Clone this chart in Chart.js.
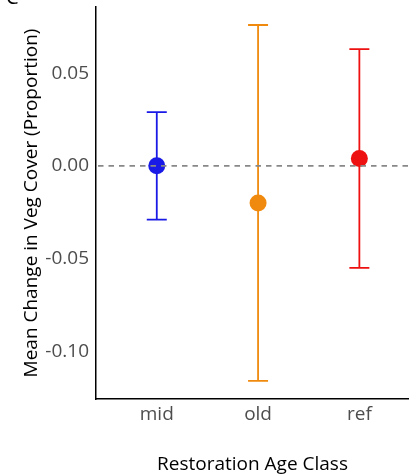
<!DOCTYPE html>
<html>
<head>
<meta charset="utf-8">
<script src="https://cdn.jsdelivr.net/npm/chart.js@4"></script>
<style>
  html, body { margin: 0; padding: 0; background: #fff; overflow: hidden; }
  #wrap { width: 409px; height: 476px; position: relative; }
</style>
</head>
<body>
<div id="wrap"><canvas id="grafica"></canvas></div>
<script>
const categorias = ["mid", "old", "ref"];
const medias = [0.000, -0.020, 0.004];
const inferior = [-0.029, -0.116, -0.055];
const superior = [0.029, 0.076, 0.063];
const colores = ["#1a1ae6", "#f08a0e", "#ee1111"];
const ticksY = [-0.10, -0.05, 0.00, 0.05];

const puntos = categorias.map((c, i) => ({ x: i + 1, y: medias[i] }));

// barras de error con tapas
const barrasError = {
    id: "barrasError",
    beforeDatasetsDraw(chart) {
        const { ctx, scales: { x, y } } = chart;
        ctx.save();
        ctx.lineWidth = 1.8;
        categorias.forEach((c, i) => {
            const px = x.getPixelForValue(i + 1);
            const top = y.getPixelForValue(superior[i]);
            const bot = y.getPixelForValue(inferior[i]);
            ctx.strokeStyle = colores[i];
            ctx.beginPath();
            ctx.moveTo(px, top);
            ctx.lineTo(px, bot);
            ctx.moveTo(px - 10, top);
            ctx.lineTo(px + 10, top);
            ctx.moveTo(px - 10, bot);
            ctx.lineTo(px + 10, bot);
            ctx.stroke();
        });
        ctx.restore();
    },
    afterDatasetsDraw(chart) {
        const { ctx, chartArea, scales: { y } } = chart;
        const py = y.getPixelForValue(0);
        ctx.save();
        ctx.strokeStyle = "#888888";
        ctx.lineWidth = 1.7;
        ctx.setLineDash([5.5, 5]);
        ctx.beginPath();
        ctx.moveTo(chartArea.left + 2, py);
        ctx.lineTo(chartArea.right, py);
        ctx.stroke();
        ctx.restore();
    }
};

// letra del panel, cortada arriba
const letraPanel = {
    id: "letraPanel",
    afterDraw(chart) {
        const { ctx } = chart;
        ctx.save();
        ctx.fillStyle = "#000";
        ctx.font = "20px 'Open Sans'";
        ctx.textBaseline = "alphabetic";
        ctx.fillText("C", 6, 4);
        ctx.restore();
    }
};

const sinRelleno = (axis) => {
    axis.paddingTop = 0;
    axis.paddingBottom = 0;
    axis.paddingLeft = 0;
    axis.paddingRight = 0;
};

new Chart(document.getElementById("grafica"), {
    type: "scatter",
    data: {
        datasets: [{
            data: puntos,
            pointBackgroundColor: colores,
            pointBorderColor: colores,
            pointRadius: 8.5,
            pointHoverRadius: 8.5,
            borderWidth: 0
        }]
    },
    options: {
        responsive: true,
        maintainAspectRatio: false,
        animation: false,
        layout: { autoPadding: false, padding: { top: 7, right: 0, left: 0, bottom: 0 } },
        plugins: { legend: { display: false }, tooltip: { enabled: false } },
        scales: {
            x: {
                type: "linear",
                min: 0.4,
                max: 3.49,
                afterBuildTicks: (axis) => { axis.ticks = categorias.map((c, i) => ({ value: i + 1 })); },
                afterFit: (axis) => { axis.height = 77; sinRelleno(axis); },
                ticks: {
                    callback: (v) => categorias[v - 1],
                    color: "#4d4d4d",
                    font: { family: "'Open Sans'", size: 19 },
                    padding: 0,
                    maxRotation: 0
                },
                grid: { display: false, drawTicks: true, tickLength: 4, tickColor: "#333" },
                border: { display: true, color: "#000", width: 1.5 },
                title: {
                    display: true,
                    text: "Restoration Age Class",
                    color: "#000",
                    font: { family: "'Open Sans'", size: 19 },
                    padding: { top: 0, bottom: 0 }
                }
            },
            y: {
                min: -0.1258,
                max: 0.0857,
                afterBuildTicks: (axis) => { axis.ticks = ticksY.map(v => ({ value: v })); },
                afterFit: (axis) => { axis.width = 96; sinRelleno(axis); },
                ticks: {
                    callback: (v) => v.toFixed(2),
                    color: "#4d4d4d",
                    font: { family: "'Open Sans'", size: 19 },
                    padding: 3
                },
                grid: { display: false, drawTicks: true, tickLength: 4, tickColor: "#333" },
                border: { display: true, color: "#000", width: 1.5 },
                title: {
                    display: true,
                    text: "Mean Change in Veg Cover (Proportion)",
                    color: "#000",
                    font: { family: "'Open Sans'", size: 19 },
                    padding: { top: 20, bottom: 0 }
                }
            }
        }
    },
    plugins: [barrasError, letraPanel]
});
</script>
</body>
</html>
